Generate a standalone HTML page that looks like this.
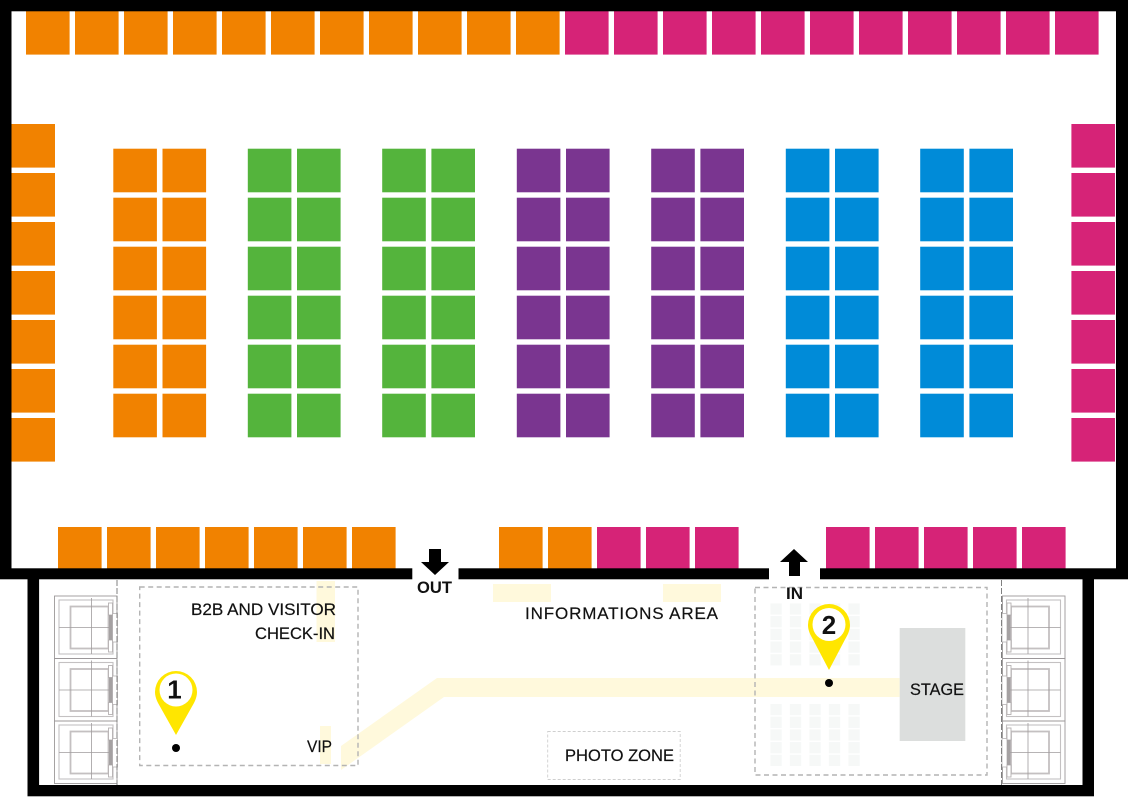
<!DOCTYPE html>
<html>
<head>
<meta charset="utf-8">
<style>
html,body{margin:0;padding:0;background:#fff}
svg{display:block}
text{font-family:"Liberation Sans",sans-serif;fill:#111}
</style>
</head>
<body>
<svg xmlns="http://www.w3.org/2000/svg" width="1128" height="797" viewBox="0 0 1128 797">
<defs>
<g id="s"><rect x="0" y="0" width="43.6" height="43.6"/></g>
<g id="r2">
<use href="#s" x="0"/><use href="#s" x="49.2"/>
</g>
<g id="col">
<use href="#r2" y="0"/><use href="#r2" y="49"/><use href="#r2" y="98"/><use href="#r2" y="147"/><use href="#r2" y="196"/><use href="#r2" y="245"/>
</g>
<g id="v7">
<use href="#s" y="0"/><use href="#s" y="49"/><use href="#s" y="98"/><use href="#s" y="147"/><use href="#s" y="196"/><use href="#s" y="245"/><use href="#s" y="294"/>
</g>
<g id="h5">
<use href="#s" x="0"/><use href="#s" x="49"/><use href="#s" x="98"/><use href="#s" x="147"/><use href="#s" x="196"/>
</g>
<g id="chairs">
<rect x="0" y="0" width="11.3" height="11.2"/><rect x="0" y="12.7" width="11.3" height="11.2"/><rect x="0" y="25.4" width="11.3" height="11.2"/><rect x="0" y="38.1" width="11.3" height="11.2"/><rect x="0" y="50.8" width="11.3" height="11.2"/>
</g>
<g id="lift" fill="none">
<rect x="54.5" y="0" width="62.5" height="62.5" stroke="#9c9899" stroke-width="0.9"/>
<rect x="59" y="4" width="54" height="54" stroke="#c4c1c2" stroke-width="1.1"/>
<rect x="70.5" y="10.5" width="38" height="42" stroke="#c4c0c1" stroke-width="1.8"/>
<path d="M91.5 2V58M59 31.5H110" stroke="#a09c9d" stroke-width="0.8"/>
<rect x="112.500" y="17.500" width="5" height="28.500" fill="#fff" stroke="#b5b1b2" stroke-width="0.8"/>
<rect x="108.500" y="7" width="4" height="12" fill="#fff" stroke="#b5b1b2" stroke-width="0.9"/>
<rect x="108.500" y="44" width="4" height="12" fill="#fff" stroke="#b5b1b2" stroke-width="0.9"/>
<rect x="109" y="19" width="3.500" height="25" fill="#a5a1a2"/>
</g>
</defs>

<!-- Booths -->
<g fill="#f18200">
<use href="#s" x="26" y="11"/><use href="#s" x="75" y="11"/><use href="#s" x="124" y="11"/><use href="#s" x="173" y="11"/><use href="#s" x="222" y="11"/><use href="#s" x="271" y="11"/><use href="#s" x="320" y="11"/><use href="#s" x="369" y="11"/><use href="#s" x="418" y="11"/><use href="#s" x="467" y="11"/><use href="#s" x="516" y="11"/>
<use href="#v7" x="11.4" y="124"/>
<use href="#col" x="113.3" y="148.7"/>
<use href="#s" x="58" y="527"/><use href="#s" x="107" y="527"/><use href="#s" x="156" y="527"/><use href="#s" x="205" y="527"/><use href="#s" x="254" y="527"/><use href="#s" x="303" y="527"/><use href="#s" x="352" y="527"/>
<use href="#s" x="499" y="527"/><use href="#s" x="548" y="527"/>
</g>
<g fill="#d62377">
<use href="#s" x="565" y="11"/><use href="#s" x="614" y="11"/><use href="#s" x="663" y="11"/><use href="#s" x="712" y="11"/><use href="#s" x="761" y="11"/><use href="#s" x="810" y="11"/><use href="#s" x="859" y="11"/><use href="#s" x="908" y="11"/><use href="#s" x="957" y="11"/><use href="#s" x="1006" y="11"/><use href="#s" x="1055" y="11"/>
<use href="#v7" x="1071.4" y="124"/>
<use href="#s" x="597" y="527"/><use href="#s" x="646" y="527"/><use href="#s" x="695" y="527"/>
<use href="#h5" x="826" y="527"/>
</g>
<g fill="#54b43c"><use href="#col" x="247.8" y="148.7"/><use href="#col" x="382.2" y="148.7"/></g>
<g fill="#7a3590"><use href="#col" x="516.8" y="148.7"/><use href="#col" x="651.2" y="148.7"/></g>
<g fill="#008bd8"><use href="#col" x="785.8" y="148.7"/><use href="#col" x="920.2" y="148.7"/></g>

<!-- Pale yellow paths -->
<g fill="#fff9dc">
<rect x="316.5" y="581" width="18.5" height="61"/>
<rect x="320" y="726" width="11" height="38"/>
<rect x="493" y="584" width="58" height="18"/>
<rect x="663" y="584" width="58" height="18"/>
<polygon points="341,746 437,678 899.7,678 899.7,697 444,697 341,770"/>
</g>

<!-- Chairs -->
<g fill="#f6f8f7">
<use href="#chairs" x="770.4" y="603.4"/><use href="#chairs" x="789.9" y="603.4"/><use href="#chairs" x="809.4" y="603.4"/><use href="#chairs" x="828.9" y="603.4"/><use href="#chairs" x="848.4" y="603.4"/>
<use href="#chairs" x="770.4" y="704"/><use href="#chairs" x="789.9" y="704"/><use href="#chairs" x="809.4" y="704"/><use href="#chairs" x="828.9" y="704"/><use href="#chairs" x="848.4" y="704"/>
</g>

<!-- Stage -->
<rect x="899.7" y="628" width="65.6" height="113" fill="#dcdedd"/>

<!-- Dashed areas -->
<g fill="none" stroke="#b4b4b4" stroke-width="1.4" stroke-dasharray="5 3.5">
<rect x="139.7" y="587" width="218.3" height="178.5"/>
<rect x="755" y="587.5" width="232" height="187.5"/>
</g>
<rect x="547.7" y="731.5" width="132.5" height="48" fill="none" stroke="#cfcfcf" stroke-width="0.9" stroke-dasharray="3 2"/>

<!-- Lifts -->
<use href="#lift" y="596"/><use href="#lift" y="658.5"/><use href="#lift" y="721"/>
<g transform="matrix(-1 0 0 1 1119.5 0)">
<use href="#lift" y="596"/><use href="#lift" y="658.5"/><use href="#lift" y="721"/>
</g>
<path d="M117 580V785M1001.5 580V785" stroke="#808080" stroke-width="1" stroke-dasharray="6 2" fill="none"/>

<!-- Walls -->
<g fill="#000">
<rect x="0" y="0" width="1128" height="11.3"/>
<rect x="0" y="0" width="11.5" height="579"/>
<rect x="1116" y="0" width="12" height="579"/>
<rect x="0" y="568.3" width="412.3" height="11"/>
<rect x="458.5" y="568.3" width="310.5" height="11"/>
<rect x="820" y="568.3" width="308" height="11"/>
<rect x="27.5" y="579" width="11.6" height="217"/>
<rect x="27.5" y="785" width="1066.5" height="11.3"/>
<rect x="1082.5" y="579" width="11.5" height="217"/>
</g>

<!-- Arrows -->
<polygon points="429,549 441,549 441,562 449,562 435,575 421,562 429,562" fill="#000"/>
<polygon points="794,549 808,562 800,562 800,576 789,576 789,562 780,562" fill="#000"/>

<!-- Pins -->
<g>
<path d="M155 692a21 21 0 0 1 42 0c0 6-3 11-5 14.500L176 735L160 706.500C158 703 155 698 155 692Z" fill="#ffe600"/>
<circle cx="176" cy="690" r="16.500" fill="#fff"/>
<circle cx="176" cy="748" r="4" fill="#000"/>
<path d="M808 625a21 21 0 0 1 42 0c0 6-3 11-5 14.500L829 670L813 639.500C811 636 808 631 808 625Z" fill="#ffe600"/>
<circle cx="829" cy="624.500" r="16.500" fill="#fff"/>
<circle cx="829" cy="683" r="4" fill="#000"/>
</g>

<!-- Labels -->
<g font-size="17" stroke="#111" stroke-width="0.2">
<text x="191" y="615" textLength="145" lengthAdjust="spacingAndGlyphs">B2B AND VISITOR</text>
<text x="255" y="639" textLength="80" lengthAdjust="spacingAndGlyphs">CHECK-IN</text>
<text x="307" y="752" textLength="25" lengthAdjust="spacingAndGlyphs">VIP</text>
<text x="525" y="619" textLength="193" lengthAdjust="spacing">INFORMATIONS AREA</text>
<text x="565" y="761" textLength="109" lengthAdjust="spacingAndGlyphs">PHOTO ZONE</text>
<text x="910" y="695" textLength="54" lengthAdjust="spacingAndGlyphs">STAGE</text>
</g>
<g font-size="16.500" font-weight="bold">
<text x="417" y="593" textLength="35" lengthAdjust="spacingAndGlyphs">OUT</text>
<text x="786" y="599" textLength="17" lengthAdjust="spacingAndGlyphs">IN</text>
</g>
<g font-size="26" font-weight="bold" text-anchor="middle">
<text x="174.500" y="698.500">1</text>
<text x="829" y="634">2</text>
</g>
</svg>
</body>
</html>
